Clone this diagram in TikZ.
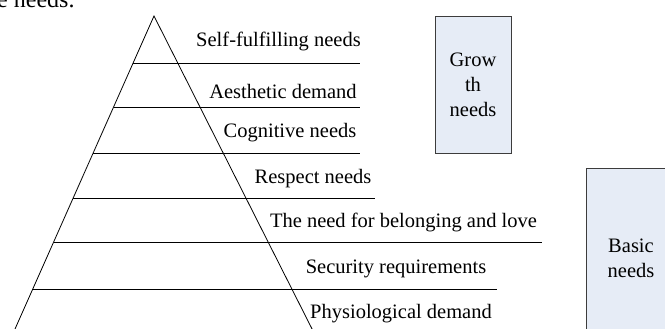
\documentclass[tikz,border=0pt]{standalone}
\usepackage{fontspec}
\setmainfont{Liberation Serif}
\definecolor{boxfill}{RGB}{230,236,246}
\definecolor{boxline}{RGB}{60,60,60}
\begin{document}
\begin{tikzpicture}[x=1pt,y=-1pt,
  lbl/.style={anchor=base,inner sep=0pt,font=\fontsize{20.5}{25}\selectfont},
  grp/.style={draw=boxline,fill=boxfill,line width=0.9pt,align=center,inner sep=0pt,font=\fontsize{20.5}{25}\selectfont},
  edge/.style={line width=0.8pt,black}]
\useasboundingbox (0,0) rectangle (665,329);
\clip (0,0) rectangle (665,329);
% partially visible text from the page above
\node[anchor=base west,inner sep=0pt,font=\fontsize{24}{28}\selectfont] (prev) at (-3,8) {e needs.};
% pyramid
\coordinate (apex) at (154,16);
\coordinate (bl) at (11.9,336);
\coordinate (br) at (315.6,336);
\draw[edge] (bl) -- (apex) -- (br);
% levels
\coordinate (l1a) at (133.1,63);  \coordinate (l1b) at (360,63);
\coordinate (l2a) at (113.6,107); \coordinate (l2b) at (360,107);
\coordinate (l3a) at (93.2,153);  \coordinate (l3b) at (360,153);
\coordinate (l4a) at (73.2,198);  \coordinate (l4b) at (375,198);
\coordinate (l5a) at (53.7,242);  \coordinate (l5b) at (542,242);
\coordinate (l6a) at (32.8,289);  \coordinate (l6b) at (497,289);
\foreach \i in {1,...,6} \draw[edge] (l\i a) -- (l\i b);
% labels
\node[lbl] (t1) at (278.5,47) {Self-fulfilling needs};
\node[lbl] (t2) at (283,99) {Aesthetic demand};
\node[lbl] (t3) at (290,138) {Cognitive needs};
\node[lbl] (t4) at (313,183) {Respect needs};
\node[lbl] (t5) at (403.5,227) {The need for belonging and love};
\node[lbl] (t6) at (396,273) {Security requirements};
\node[lbl] (t7) at (401,318) {Physiological demand};
% group boxes
\node[grp,minimum width=76pt,minimum height=137pt] (growth) at (473,84.5) {Grow\\th\\needs};
\node[grp,minimum width=90pt,minimum height=180pt,text depth=0pt] (basic) at (631,258) {Basic\\needs};
\end{tikzpicture}
\end{document}
